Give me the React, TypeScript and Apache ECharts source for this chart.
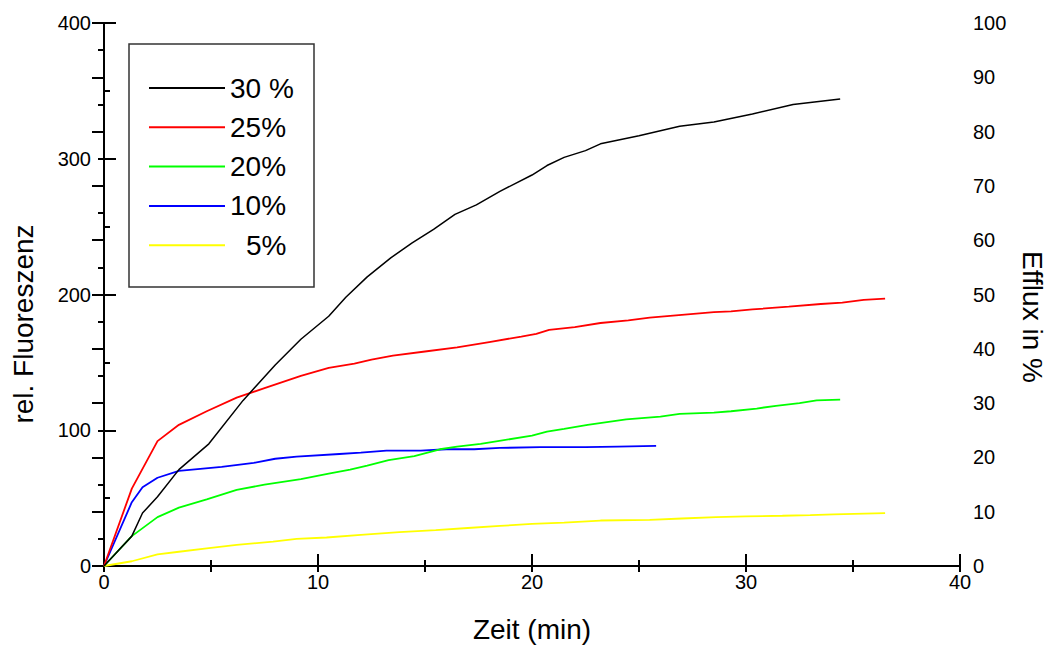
import React, { useEffect, useRef } from "react";
import * as echarts from "echarts";

// Time (min) / relative fluorescence pairs
const conc30: number[][] = [
  [0, 0], [1.3, 22], [1.8, 39], [2.5, 51], [3.5, 71], [4.9, 90], [6.5, 122], [8, 148],
  [9.2, 167], [10.5, 184], [11.3, 198], [12.3, 213], [13.4, 227], [14.4, 238], [15.4, 248],
  [16.4, 259], [17.4, 266], [18.5, 276], [20, 288], [20.7, 295], [21.5, 301], [22.5, 306],
  [23.2, 311], [25, 317], [26.9, 324], [28.5, 327], [29.4, 330], [30.3, 333], [32.2, 340],
  [33.3, 342], [34.4, 344],
];
const conc25: number[][] = [
  [0, 0], [1.3, 57], [2.5, 92], [3.5, 104], [4.8, 114], [6.2, 124], [7.5, 131], [9.2, 140],
  [10.5, 146], [11.7, 149], [12.5, 152], [13.5, 155], [15, 158], [16.5, 161], [18, 165],
  [19.5, 169], [20.2, 171], [20.8, 174], [22, 176], [23.2, 179], [24.5, 181], [25.5, 183],
  [27, 185], [28.5, 187], [29.3, 187.5], [30.3, 189], [32, 191], [33.5, 193], [34.5, 194],
  [35.5, 196], [36.5, 197],
];
const conc20: number[][] = [
  [0, 0], [1.3, 22], [2.5, 36], [3.5, 43], [4.8, 49], [6.2, 56], [7.5, 60], [9.2, 64],
  [10.5, 68], [11.5, 71], [12.3, 74], [13.3, 78], [14.5, 81], [15.7, 86], [16.5, 88],
  [17.6, 90], [18.4, 92], [20, 96], [20.7, 99], [21.5, 101], [22.6, 104], [24.4, 108],
  [26, 110], [26.9, 112], [28.5, 113], [29.3, 114], [30.5, 116], [31.4, 118], [32.5, 120],
  [33.3, 122], [34.4, 122.5],
];
const conc10: number[][] = [
  [0, 0], [1.3, 47], [1.8, 58], [2.5, 65], [3.5, 70], [5.5, 73], [7, 76], [8, 79], [9, 80.5],
  [11, 82.5], [12, 83.5], [13.2, 85], [14.8, 85], [16, 86], [17.3, 86], [18.5, 87],
  [20.4, 87.5], [22.5, 87.5], [24, 88], [25.8, 88.5],
];
const conc5: number[][] = [
  [0, 0], [1.3, 3.5], [2.5, 8.5], [3.5, 10.5], [4.8, 13], [6.2, 15.5], [7.9, 18], [9, 20],
  [10.4, 21], [12, 23], [13.8, 25], [15.5, 26.5], [17, 28], [18.5, 29.5], [20, 31],
  [21.5, 32], [23.2, 33.5], [25.5, 34], [27, 35], [28.6, 36], [30, 36.5], [31.7, 37],
  [33, 37.5], [34.1, 38], [36.5, 39],
];

const seriesNames = ["30 %", "25%", "20%", "10%", "5%"];
const seriesColors = ["#000000", "#ff0000", "#00ff00", "#0000ff", "#ffff00"];
const seriesData = [conc30, conc25, conc20, conc10, conc5];

const FONT = "Arial, 'Liberation Sans', Helvetica, sans-serif";

export default function App() {
  const ref = useRef<HTMLDivElement>(null);

  useEffect(() => {
    if (!ref.current) return;
    const chart = echarts.init(ref.current, undefined, { renderer: "svg" });
    const axisLine = { show: true, lineStyle: { color: "#000", width: 2 } };
    const label = { color: "#000", fontSize: 20, fontFamily: FONT };
    const tick = (len: number) => ({
      show: true,
      inside: true,
      length: len,
      lineStyle: { color: "#000", width: 2 },
    });
    const minor = (len: number) => ({
      show: true,
      splitNumber: 2,
      length: len,
      lineStyle: { color: "#000", width: 2 },
    });
    chart.setOption({
      animation: false,
      backgroundColor: "#fff",
      grid: { left: 104, right: 89, top: 23, bottom: 82, containLabel: false },
      legend: {
        orient: "vertical",
        left: 144,
        top: 68,
        itemWidth: 76,
        itemHeight: 2,
        itemGap: 9.3,
        icon: "rect",
        data: seriesNames,
        textStyle: {
          color: "#000",
          fontSize: 28,
          fontFamily: FONT,
          lineHeight: 30,
          rich: { p: { fontSize: 28, fontFamily: FONT, padding: [0, 0, 0, 16], lineHeight: 30 } },
        },
        formatter: (name: string) => (name === "5%" ? "{p|5%}" : name),
      },
      graphic: [
        {
          type: "rect",
          shape: { x: 129, y: 44, width: 185, height: 243 },
          style: { fill: "none", stroke: "#333", lineWidth: 1.5 },
          z: 10,
        },
        {
          type: "text",
          x: 23,
          y: 324,
          rotation: Math.PI / 2,
          style: {
            text: "rel. Fluoreszenz",
            fontSize: 28,
            fontFamily: FONT,
            fill: "#000",
            align: "center",
            verticalAlign: "middle",
          },
        },
        {
          type: "text",
          x: 1032,
          y: 317,
          rotation: -Math.PI / 2,
          style: {
            text: "Efflux in %",
            fontSize: 28,
            fontFamily: FONT,
            fill: "#000",
            align: "center",
            verticalAlign: "middle",
          },
        },
      ],
      xAxis: [
        {
          type: "value",
          min: 0,
          max: 40,
          interval: 10,
          position: "bottom",
          name: "Zeit (min)",
          nameLocation: "middle",
          nameGap: 49,
          nameTextStyle: { color: "#000", fontSize: 28, fontFamily: FONT },
          axisLine,
          axisTick: tick(12),
          minorTick: minor(6),
          axisLabel: { ...label, margin: 6 },
          splitLine: { show: false },
        },
        {
          type: "value",
          min: 0,
          max: 40,
          interval: 10,
          position: "top",
          axisLine,
          axisTick: tick(6),
          minorTick: minor(6),
          axisLabel: { show: false },
          splitLine: { show: false },
        },
      ],
      yAxis: [
        {
          type: "value",
          min: 0,
          max: 400,
          interval: 100,
          position: "left",
          axisLine,
          axisTick: tick(12),
          minorTick: minor(6),
          axisLabel: { ...label, margin: 13 },
          splitLine: { show: false },
        },
        {
          type: "value",
          min: 0,
          max: 100,
          interval: 10,
          position: "right",
          axisLine,
          axisTick: tick(12),
          minorTick: minor(6),
          axisLabel: { ...label, margin: 13 },
          splitLine: { show: false },
        },
      ],
      series: seriesNames.map((name, i) => ({
        name,
        type: "line",
        xAxisIndex: 0,
        yAxisIndex: 0,
        data: seriesData[i],
        showSymbol: false,
        symbol: "none",
        color: seriesColors[i],
        lineStyle: { color: seriesColors[i], width: i === 0 ? 1.5 : 1.8 },
        z: 5 - i,
      })),
    });
    return () => chart.dispose();
  }, []);

  return (
    <div
      ref={ref}
      style={{ position: "fixed", left: 0, top: 0, width: 1049, height: 648, background: "#fff" }}
    />
  );
}
